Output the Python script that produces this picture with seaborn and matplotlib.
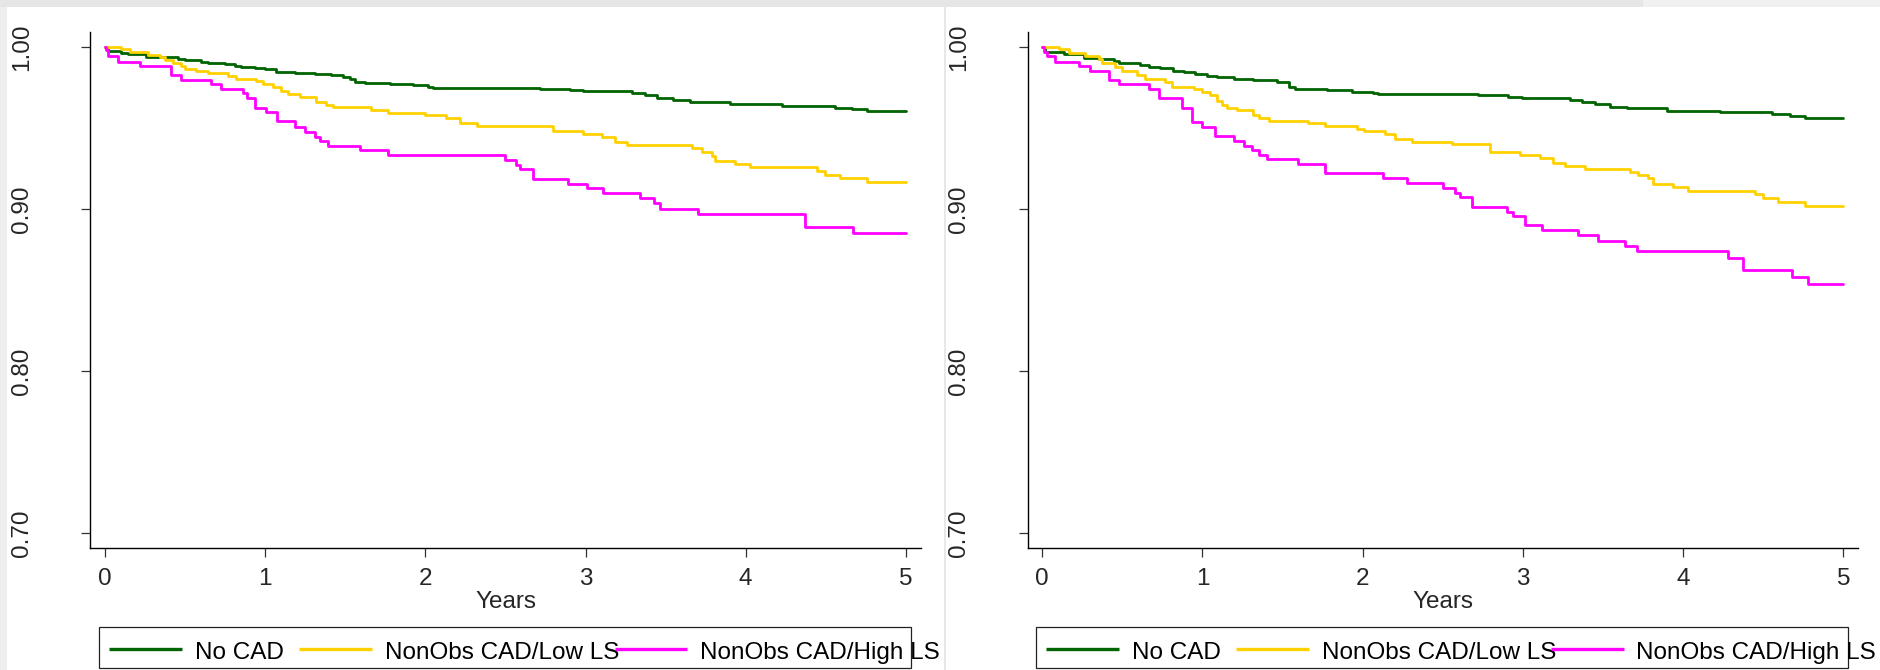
import matplotlib
matplotlib.use("Agg")
import matplotlib.pyplot as plt
from matplotlib.lines import Line2D
from matplotlib.patches import Rectangle
import pandas as pd
import seaborn as sns

# ---------------------------------------------------------------- data
groups = ["No CAD", "NonObs CAD/Low LS", "NonObs CAD/High LS"]
colors = ["#006400", "#FFD100", "#FF00FF"]

x_ticks = [0, 1, 2, 3, 4, 5]
y_ticks = [0.70, 0.80, 0.90, 1.00]
y_tick_labels = ["0.70", "0.80", "0.90", "1.00"]
x_title = "Years"

# Left panel: Kaplan-Meier survival (step start times in years, survival)
left_nocad_t = [0, 0.019, 0.102, 0.144, 0.258, 0.373, 0.456, 0.498, 0.602, 0.644,
                0.748, 0.810, 0.852, 0.935, 0.998, 1.070, 1.185, 1.310, 1.414, 1.487,
                1.528, 1.560, 1.622, 1.778, 1.924, 2.018, 2.049, 2.715, 2.903, 2.986,
                3.288, 3.371, 3.444, 3.548, 3.652, 3.902, 4.225, 4.558, 4.662, 4.756, 5.0]
left_nocad_s = [1.0, 0.9977, 0.9967, 0.9959, 0.9942, 0.9938, 0.9928, 0.9922, 0.9911, 0.9905,
                0.9895, 0.9887, 0.9880, 0.9872, 0.9864, 0.9850, 0.9843, 0.9835, 0.9829, 0.9819,
                0.9802, 0.9788, 0.9782, 0.9773, 0.9765, 0.9757, 0.9751, 0.9743, 0.9736, 0.9728,
                0.9720, 0.9704, 0.9689, 0.9675, 0.9664, 0.9650, 0.9638, 0.9627, 0.9617, 0.9605, 0.9605]

left_low_t = [0, 0.102, 0.154, 0.269, 0.342, 0.373, 0.425, 0.477, 0.498, 0.571,
              0.644, 0.768, 0.821, 0.945, 0.987, 1.050, 1.102, 1.143, 1.216, 1.320,
              1.383, 1.424, 1.664, 1.768, 1.997, 2.132, 2.215, 2.320, 2.798, 2.986,
              3.100, 3.184, 3.257, 3.663, 3.725, 3.787, 3.808, 3.933, 4.027, 4.443,
              4.495, 4.589, 4.756, 5.0]
left_low_s = [1.0, 0.9987, 0.9971, 0.9952, 0.9938, 0.9922, 0.9905, 0.9885, 0.9868, 0.9854,
              0.9839, 0.9823, 0.9806, 0.9790, 0.9773, 0.9753, 0.9732, 0.9712, 0.9695, 0.9662,
              0.9644, 0.9629, 0.9613, 0.9596, 0.9580, 0.9564, 0.9531, 0.9514, 0.9485, 0.9465,
              0.9448, 0.9417, 0.9395, 0.9376, 0.9356, 0.9329, 0.9300, 0.9280, 0.9261, 0.9238,
              0.9214, 0.9193, 0.9166, 0.9166]

left_high_t = [0, 0.004, 0.019, 0.081, 0.217, 0.415, 0.473, 0.664, 0.723, 0.862,
               0.889, 0.935, 1.008, 1.077, 1.185, 1.247, 1.310, 1.341, 1.393, 1.591,
               1.768, 2.497, 2.569, 2.594, 2.674, 2.892, 3.007, 3.111, 3.340, 3.427,
               3.465, 3.704, 4.370, 4.672, 5.0]
left_high_s = [1.0, 0.9983, 0.9946, 0.9911, 0.9885, 0.9829, 0.9798, 0.9771, 0.9741, 0.9716,
               0.9685, 0.9627, 0.9599, 0.9545, 0.9506, 0.9479, 0.9444, 0.9424, 0.9391, 0.9366,
               0.9335, 0.9304, 0.9273, 0.9249, 0.9189, 0.9156, 0.9129, 0.9099, 0.9068, 0.9037,
               0.9000, 0.8971, 0.8891, 0.8852, 0.8852]

# Right panel
right_nocad_t = [0, 0.019, 0.133, 0.258, 0.351, 0.445, 0.476, 0.611, 0.663, 0.736,
                 0.819, 0.882, 0.954, 1.027, 1.090, 1.194, 1.318, 1.464, 1.537, 1.578,
                 1.776, 1.932, 2.067, 2.098, 2.722, 2.909, 2.992, 3.294, 3.367, 3.450,
                 3.543, 3.647, 3.897, 4.230, 4.552, 4.666, 4.760, 5.0]
right_nocad_s = [1.0, 0.9973, 0.9957, 0.9936, 0.9926, 0.9915, 0.9905, 0.9891, 0.9880, 0.9870,
                 0.9856, 0.9845, 0.9835, 0.9825, 0.9815, 0.9806, 0.9798, 0.9786, 0.9757, 0.9745,
                 0.9734, 0.9726, 0.9718, 0.9712, 0.9704, 0.9695, 0.9689, 0.9675, 0.9660, 0.9650,
                 0.9634, 0.9623, 0.9609, 0.9599, 0.9586, 0.9574, 0.9564, 0.9564]

right_low_t = [0, 0.102, 0.164, 0.268, 0.351, 0.372, 0.455, 0.497, 0.591, 0.643,
               0.767, 0.809, 0.944, 0.996, 1.048, 1.090, 1.121, 1.152, 1.214, 1.318,
               1.350, 1.412, 1.661, 1.765, 1.963, 2.005, 2.140, 2.202, 2.306, 2.556,
               2.795, 2.982, 3.107, 3.190, 3.263, 3.387, 3.668, 3.720, 3.782, 3.814,
               3.938, 4.032, 4.448, 4.500, 4.593, 4.760, 5.0]
right_low_s = [1.0, 0.9987, 0.9967, 0.9946, 0.9926, 0.9905, 0.9880, 0.9854, 0.9831, 0.9804,
               0.9788, 0.9757, 0.9741, 0.9726, 0.9706, 0.9671, 0.9644, 0.9627, 0.9611, 0.9582,
               0.9566, 0.9547, 0.9531, 0.9514, 0.9498, 0.9481, 0.9463, 0.9434, 0.9417, 0.9401,
               0.9356, 0.9335, 0.9315, 0.9288, 0.9267, 0.9251, 0.9230, 0.9212, 0.9191, 0.9154,
               0.9136, 0.9113, 0.9092, 0.9068, 0.9043, 0.9020, 0.9020]

right_high_t = [0, 0.008, 0.029, 0.081, 0.227, 0.299, 0.414, 0.476, 0.663, 0.726,
                0.871, 0.934, 0.996, 1.079, 1.194, 1.256, 1.308, 1.350, 1.402, 1.599,
                1.765, 2.129, 2.275, 2.504, 2.576, 2.608, 2.680, 2.899, 2.940, 3.013,
                3.117, 3.346, 3.471, 3.637, 3.710, 4.282, 4.375, 4.677, 4.781, 5.0]
right_high_s = [1.0, 0.9973, 0.9946, 0.9911, 0.9885, 0.9856, 0.9798, 0.9771, 0.9741, 0.9685,
                0.9627, 0.9541, 0.9506, 0.9452, 0.9424, 0.9391, 0.9366, 0.9335, 0.9308, 0.9280,
                0.9222, 0.9193, 0.9162, 0.9134, 0.9103, 0.9074, 0.9016, 0.8985, 0.8959, 0.8903,
                0.8872, 0.8841, 0.8806, 0.8773, 0.8741, 0.8697, 0.8625, 0.8580, 0.8537, 0.8537]

left_series = [(left_nocad_t, left_nocad_s), (left_low_t, left_low_s), (left_high_t, left_high_s)]
right_series = [(right_nocad_t, right_nocad_s), (right_low_t, right_low_s), (right_high_t, right_high_s)]

# ---------------------------------------------------------------- style
sns.set_style("ticks")
plt.rcParams["font.family"] = ["Liberation Sans", "DejaVu Sans"]
FS = 17.5

W, H = 1881, 670
fig = plt.figure(figsize=(W / 100, H / 100), dpi=100)
fig.patch.set_facecolor("white")

# light grey page edges and divider between the two panels
fig.add_artist(Rectangle((0, 1 - 7 / H), 1643 / W, 7 / H, transform=fig.transFigure,
                         facecolor="#e6e6e6", edgecolor="none", zorder=0))
fig.add_artist(Rectangle((1643 / W, 1 - 7 / H), 1 - 1643 / W, 7 / H, transform=fig.transFigure,
                         facecolor="#f0f0f0", edgecolor="none", zorder=0))
fig.add_artist(Rectangle((0, 0), 7 / W, 1 - 7 / H, transform=fig.transFigure,
                         facecolor="#eeeeee", edgecolor="none", zorder=0))
fig.add_artist(Line2D([945 / W, 945 / W], [0, 1 - 7 / H], transform=fig.transFigure,
                      color="#e4e4e4", linewidth=1.2, zorder=0))

AX_W = 830.4
AX_TOP, AX_BOT = 32.3, 548.0


def fx(px):
    return px / W


def fy(py):
    return 1 - py / H


def draw_legend(box_left):
    box_w, top, bot = 812.0, 627.0, 668.0
    fig.add_artist(Rectangle((fx(box_left), fy(bot)), box_w / W, (bot - top) / H,
                             transform=fig.transFigure, facecolor="white",
                             edgecolor="#222222", linewidth=0.9, zorder=2))
    handle_x = [10, 200, 515.5]
    text_x = [96, 286.5, 600.5]
    for g, c, hx, tx in zip(groups, colors, handle_x, text_x):
        fig.text(fx(box_left + tx), fy(659.3), g, fontsize=FS, ha="left",
                 va="baseline", color="black", zorder=3)
        fig.add_artist(Line2D([fx(box_left + hx), fx(box_left + hx + 73)], [fy(649), fy(649)],
                              transform=fig.transFigure, color=c, linewidth=2.4,
                              solid_capstyle="butt", zorder=4))


for left_px, series, box_left in [(90.3, left_series, 99.0), (1027.7, right_series, 1036.0)]:
    ax = fig.add_axes([fx(left_px), fy(AX_BOT), AX_W / W, (AX_BOT - AX_TOP) / H])
    df = pd.concat(
        [pd.DataFrame({"Years": t, "Survival": s, "Group": g})
         for g, (t, s) in zip(groups, series)],
        ignore_index=True,
    )
    sns.lineplot(data=df, x="Years", y="Survival", hue="Group", hue_order=groups,
                 palette=colors, estimator=None, drawstyle="steps-post",
                 linewidth=2.0, legend=False, ax=ax)
    ax.set_xlim(-0.091, 5.092)
    ax.set_ylim(0.69093, 1.00926)
    ax.set_xticks(x_ticks)
    ax.set_xticklabels([str(v) for v in x_ticks], fontsize=FS)
    ax.set_yticks(y_ticks)
    ax.set_yticklabels(y_tick_labels, fontsize=FS, rotation=90, va="center")
    ax.tick_params(axis="both", direction="out", length=6.5, width=0.9, color="#333333")
    ax.tick_params(axis="x", pad=8)
    ax.tick_params(axis="y", pad=35)
    ax.set_ylabel("")
    ax.set_xlabel(x_title, fontsize=FS)
    ax.xaxis.set_label_coords(0.5, (AX_BOT - 590.6) / (AX_BOT - AX_TOP) * 1.0)
    sns.despine(ax=ax)
    for sp in ("left", "bottom"):
        ax.spines[sp].set_linewidth(1.0)
        ax.spines[sp].set_color("black")
    ax.set_facecolor("white")
    draw_legend(box_left)

fig.savefig("out.png", dpi=100, facecolor="white")
